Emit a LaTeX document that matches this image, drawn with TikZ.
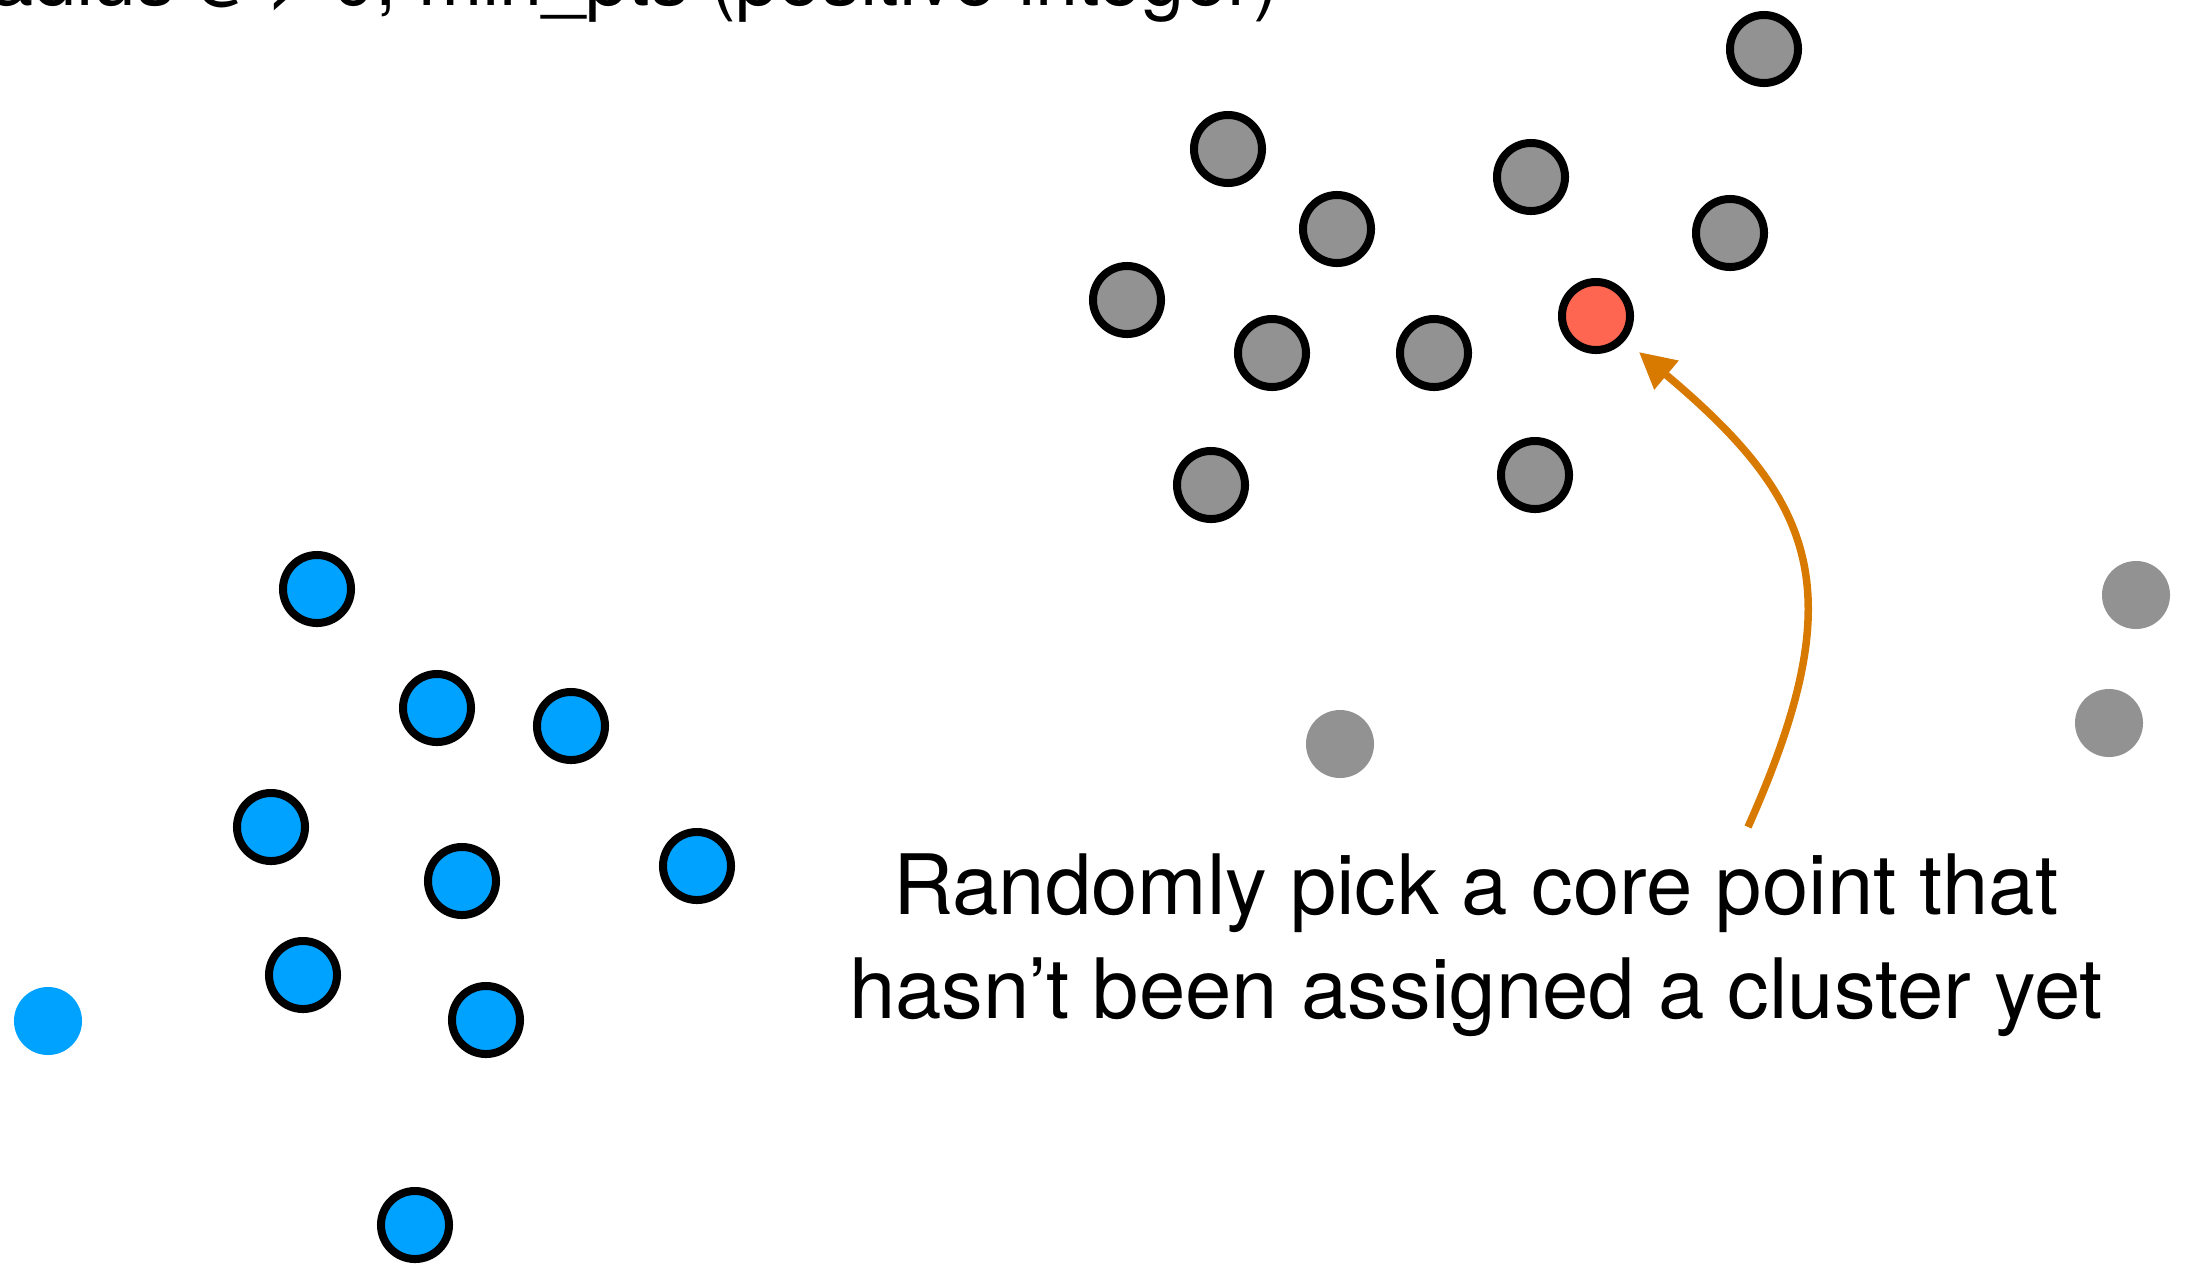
\documentclass[tikz,border=0pt]{standalone}
\usepackage{fontspec}
\setmainfont{TeX Gyre Heros}
\usetikzlibrary{arrows.meta}

\definecolor{ptblue}{RGB}{0,162,255}
\definecolor{ptgray}{RGB}{146,146,146}
\definecolor{ptred}{RGB}{255,102,82}
\definecolor{pickorange}{RGB}{216,122,0}

\tikzset{
	corept/.style={circle,draw=black,line width=0.08cm,minimum size=0.68cm,inner sep=0pt},
	noisept/.style={circle,minimum size=0.68cm,inner sep=0pt},
	pickarrow/.style={draw=pickorange,line width=0.075cm,-{Triangle[length=0.36cm,width=0.36cm]}},
	bigtext/.style={font=\fontsize{23.7}{29.6}\selectfont,inner sep=0pt}
}

\begin{document}
\begin{tikzpicture}[x=0.01cm,y=-0.01cm]
	\path[use as bounding box,clip] (0,0) rectangle (2190,1263);
	
	\node[bigtext,font=\fontsize{22}{26}\selectfont,anchor=base east] (params) at (1280,5) {radius ε > 0, min\_pts (positive integer)};
	
	% cluster being grown
	\node[corept,fill=ptgray] (g1) at (1764,49) {};
	\node[corept,fill=ptgray] (g2) at (1228,149) {};
	\node[corept,fill=ptgray] (g3) at (1531,177) {};
	\node[corept,fill=ptgray] (g4) at (1337,229) {};
	\node[corept,fill=ptgray] (g5) at (1730,233) {};
	\node[corept,fill=ptgray] (g6) at (1127,300) {};
	\node[corept,fill=ptgray] (g7) at (1272,353) {};
	\node[corept,fill=ptgray] (g8) at (1434,353) {};
	\node[corept,fill=ptred] (pick) at (1596,316) {};
	\node[corept,fill=ptgray] (g9) at (1211,485) {};
	\node[corept,fill=ptgray] (g10) at (1535,475) {};
	
	\node[noisept,fill=ptgray] (n1) at (2136,595) {};
	\node[noisept,fill=ptgray] (n2) at (2109,723) {};
	\node[noisept,fill=ptgray] (n3) at (1340,744) {};
	
	% first cluster
	\node[corept,fill=ptblue] (b1) at (317,589) {};
	\node[corept,fill=ptblue] (b2) at (437,708) {};
	\node[corept,fill=ptblue] (b3) at (571,726) {};
	\node[corept,fill=ptblue] (b4) at (271,827) {};
	\node[corept,fill=ptblue] (b5) at (462,881) {};
	\node[corept,fill=ptblue] (b6) at (697,866) {};
	\node[corept,fill=ptblue] (b7) at (303,975) {};
	\node[corept,fill=ptblue] (b8) at (486,1020) {};
	\node[corept,fill=ptblue] (b9) at (415,1225) {};
	\node[noisept,fill=ptblue] (b10) at (48,1021) {};
	
	\node[bigtext,align=center,anchor=north] (note) at (1476,853) {Randomly pick a core point that\\hasn’t been assigned a cluster yet};
	
	\coordinate (pickstart) at (1748,827);
	\draw[pickarrow,shorten >=0.18cm] (pickstart) to[out=66,in=-40,looseness=1.3] (pick);
\end{tikzpicture}
\end{document}
